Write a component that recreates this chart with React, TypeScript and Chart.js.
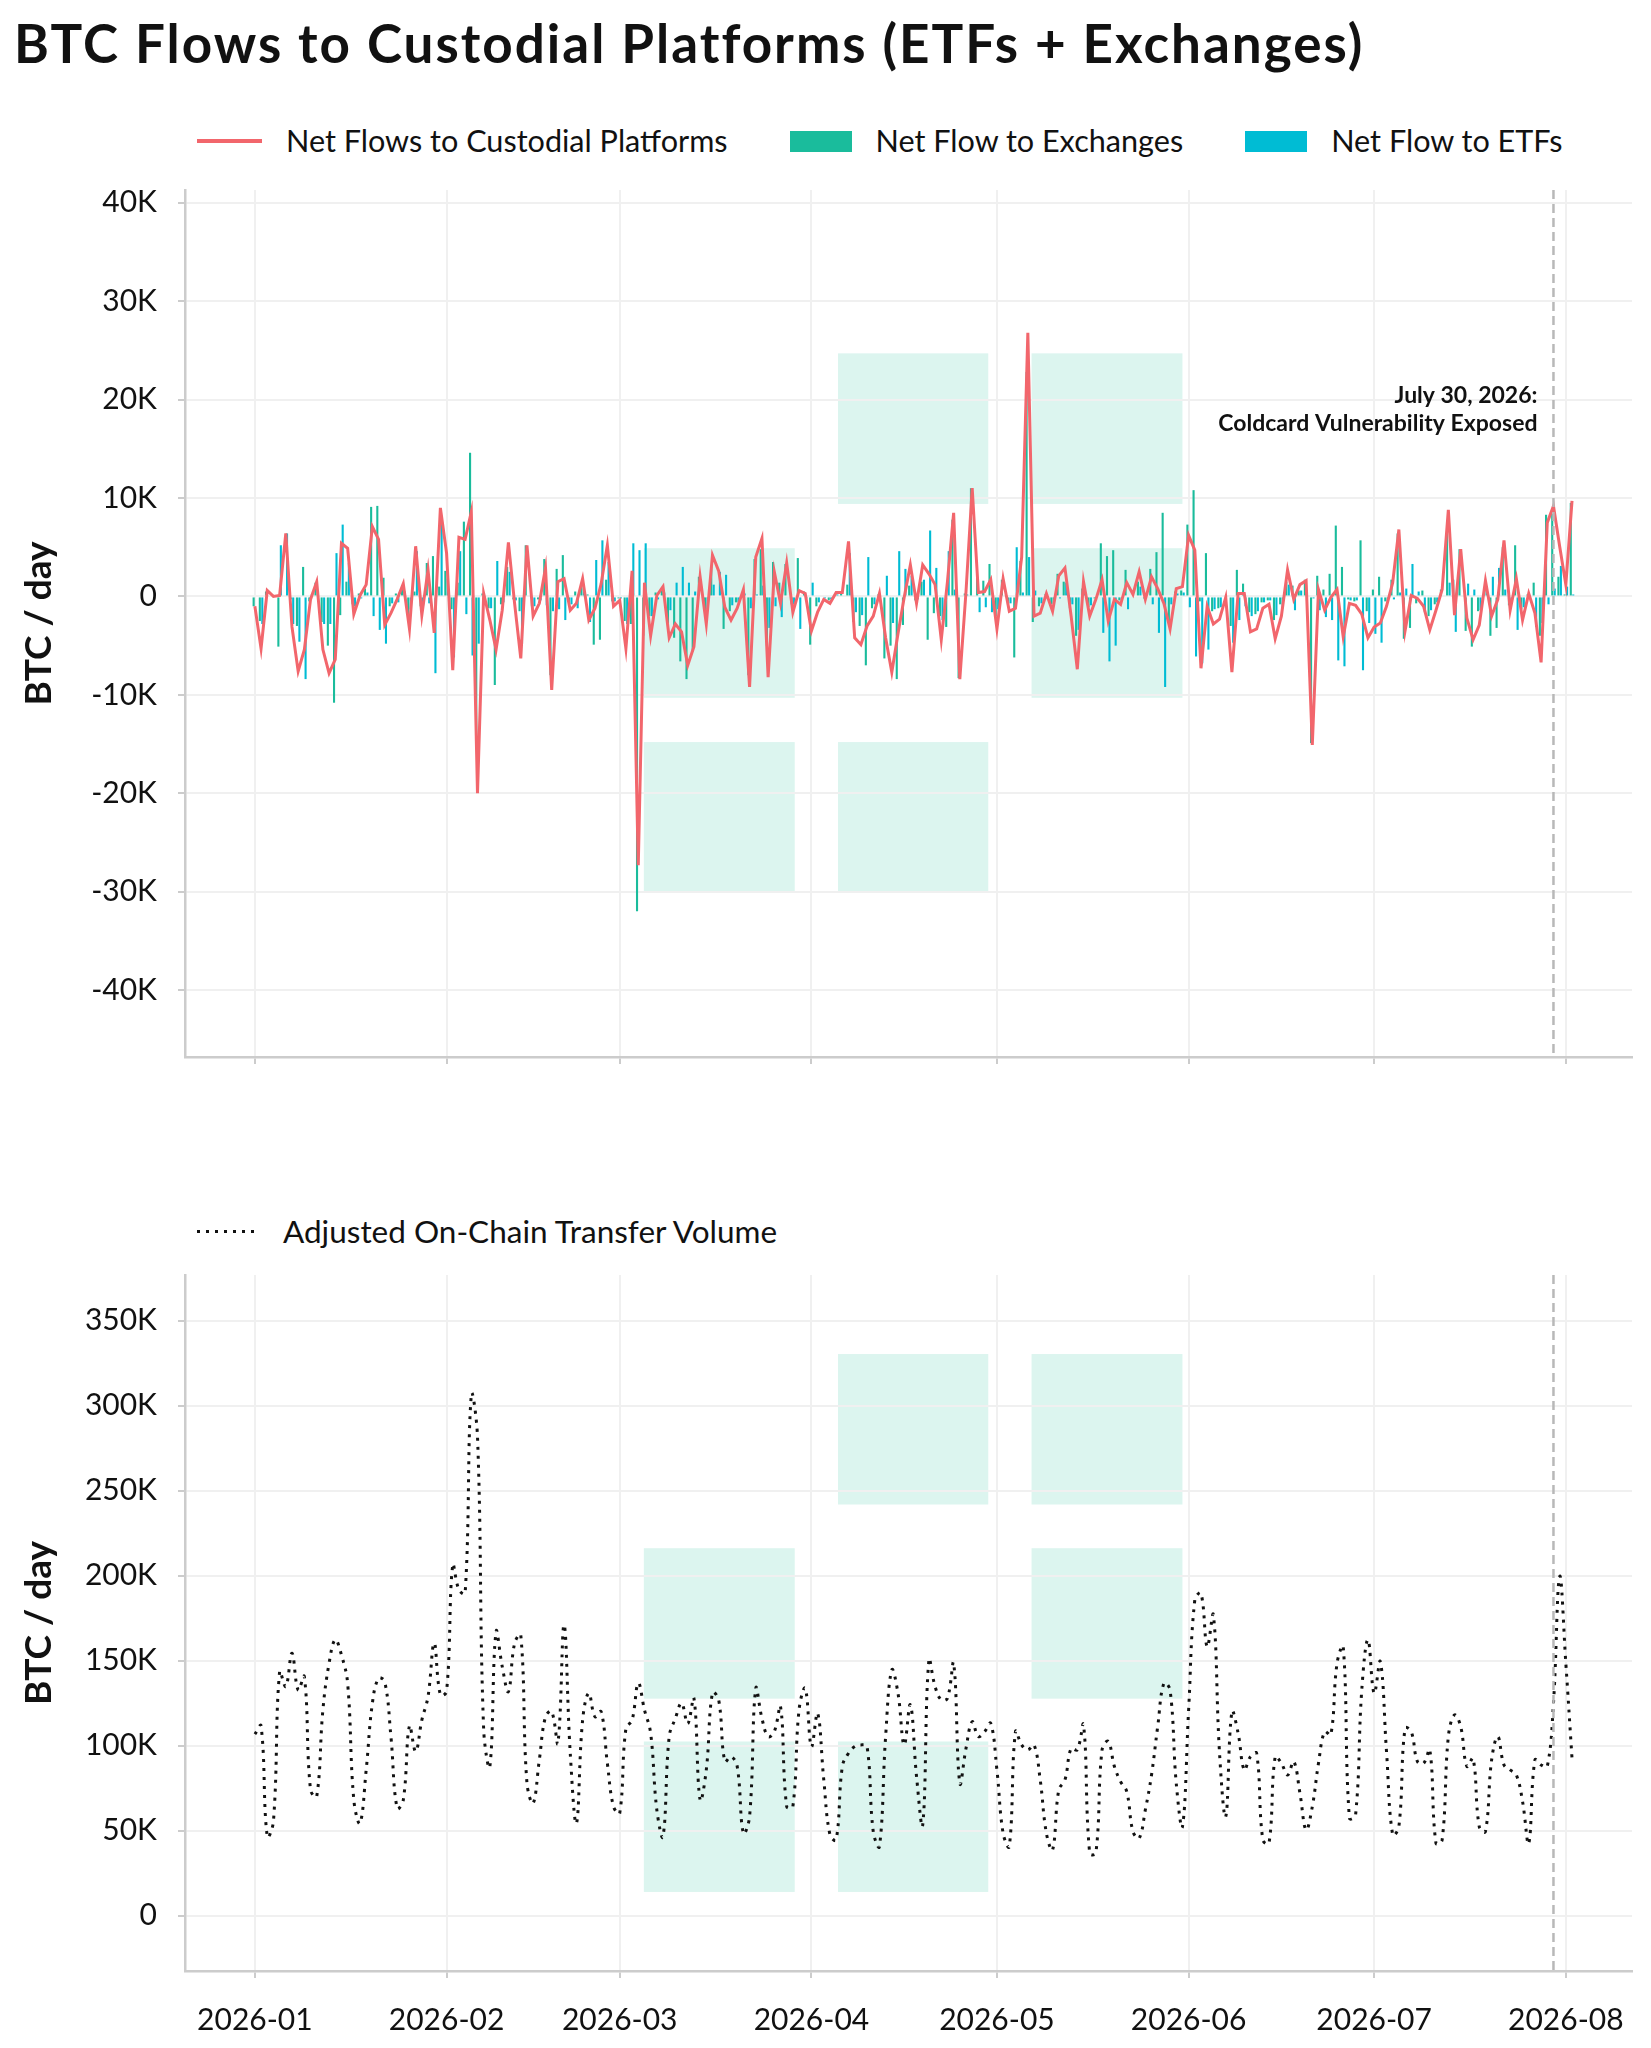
import { useRef, useEffect } from "react";
import Chart from "chart.js/auto";

const FONT = "Lato, 'Noto Sans', sans-serif";
Chart.defaults.font.family = FONT;

const TITLE = "BTC Flows to Custodial Platforms (ETFs + Exchanges)";

// day 0 = 2026-01-01, one value per day up to 2026-08-02
const netFlowsK = [
  -1.0, -5.3, 0.6, 0.0, 0.1, 6.4, -3.1, -7.6, -5.4, -0.3,
  1.5, -5.4, -7.8, -6.4, 5.4, 4.9, -1.8, 0.1, 1.2, 7.1,
  5.8, -2.9, -1.7, -0.3, 1.3, -3.3, 5.1, -1.9, 2.7, -3.7,
  9.0, 4.4, -7.5, 6.0, 5.8, 8.6, -20.0, 0.3, -2.4, -5.4,
  -1.4, 5.5, -0.7, -6.3, 5.2, -2.0, -0.7, 2.9, -9.5, 1.5,
  1.8, -1.4, -0.7, 1.8, -2.4, -1.2, 1.3, 5.2, -1.0, -0.4,
  -5.3, 2.6, -27.3, 1.4, -4.0, 0.1, 1.0, -4.2, -2.8, -3.6,
  -7.0, -5.1, 2.0, -2.8, 4.2, 2.6, -1.1, -2.4, -1.2, 0.7,
  -9.2, 4.0, 5.9, -8.2, 2.5, -0.7, 3.4, -1.6, 0.6, 0.3,
  -3.5, -1.6, -0.3, -0.7, 0.4, 0.4, 5.6, -4.2, -4.9, -3.0,
  -2.0, 0.3, -4.2, -7.7, -3.8, -0.1, 3.2, -0.7, 3.2, 2.3,
  1.2, -4.4, 1.5, 8.5, -8.4, 0.5, 11.0, 0.4, 0.5, 1.7,
  -3.3, 1.8, -1.5, -1.2, 4.0, 26.8, -2.0, -1.7, 0.3, -1.5,
  2.1, 2.9, -2.0, -7.4, 1.5, -2.0, -0.3, 1.7, -2.5, -0.3,
  -0.8, 1.4, 0.2, 2.5, -0.3, 2.0, 0.8, -0.7, -3.3, 0.8,
  1.0, 6.2, 4.7, -7.3, -1.0, -2.8, -2.3, -0.1, -7.7, 0.3,
  0.3, -3.6, -3.3, -1.2, -0.8, -4.3, -2.0, 2.7, -0.3, 1.2,
  1.6, -15.1, 0.7, -1.4, -0.1, 0.7, -4.1, -0.7, -0.9, -1.8,
  -4.2, -3.1, -2.7, -1.0, 1.4, 6.8, -3.5, 0.1, -0.2, -1.0,
  -3.4, -1.4, 0.7, 8.8, -1.9, 4.8, -2.2, -4.4, -2.9, 1.6,
  -2.0, -0.3, 5.7, -1.4, 1.8, -2.4, 0.3, -1.7, -6.7, 7.5,
  9.2, 5.1, 1.2, 9.7,
];

const exchangeFlowsK = [
  -1.0, -2.5, 0.5, 0.0, -5.1, 0.0, -0.3, -3.0, 3.0, -0.5,
  1.4, -2.6, -5.0, -10.8, -1.9, 1.5, -0.8, 0.3, 0.8, 9.1,
  9.2, 1.9, -1.0, 0.3, 0.8, -2.0, 0.5, -1.0, 3.4, 4.1,
  1.0, 2.6, -1.3, 1.4, 7.6, 14.6, -15.2, 0.3, -1.2, -9.0,
  -0.8, 3.0, -0.3, -1.5, 5.2, -1.0, -0.3, 3.8, -8.0, 2.8,
  4.2, -0.6, 0.5, 1.0, 0.2, -4.9, -4.4, 1.7, -0.5, -0.2,
  -2.5, -2.8, -32.0, -4.0, -2.0, 0.4, 0.6, -2.8, -4.2, -6.6,
  -8.4, -5.6, 2.0, -1.5, 3.0, 0.1, -3.3, -1.5, -0.6, 0.4,
  -8.0, 3.8, 4.8, -5.0, 3.5, 1.4, 3.3, -0.8, 3.9, 0.5,
  -4.9, -1.0, -0.1, -0.4, 0.2, 0.3, 1.2, -2.6, -3.0, -7.0,
  -1.2, 0.2, -6.3, -5.0, -8.4, -2.9, 1.1, -0.4, 1.5, -4.4,
  -1.7, -2.0, -3.1, 7.8, -8.3, 0.3, 11.0, 2.0, 1.6, 3.3,
  -2.0, 1.7, -0.8, -6.2, 3.6, 22.8, -2.6, -1.0, 0.2, -0.8,
  2.3, 1.5, -1.2, -4.0, 0.8, -1.1, -0.2, 5.4, 4.1, 4.7,
  -0.4, 2.7, 0.1, 1.5, -0.2, 2.8, 4.5, 8.5, -2.5, 0.5,
  0.6, 7.3, 10.8, -0.5, 4.4, -1.5, -1.2, -0.1, -3.0, 2.7,
  1.3, -1.6, -1.8, -0.6, -0.4, -2.4, -0.8, 1.5, 1.1, 0.6,
  1.7, -14.9, 2.1, 0.7, 2.3, 7.2, 3.0, -0.3, -0.5, 5.7,
  -1.5, 0.7, 2.0, -0.5, 1.7, 6.4, -4.3, -3.2, -0.7, 0.6,
  -2.0, -0.8, 0.7, 7.4, 1.7, 4.8, -3.5, -5.1, -1.5, 0.9,
  -4.0, -3.2, 5.0, -0.9, 5.2, -1.3, 0.2, 1.4, -4.0, 8.3,
  8.4, 2.0, 0.2, 9.5,
];

const etfFlowsK = [
  0.0, -2.8, 0.1, 0.0, 5.2, 6.4, -2.8, -4.6, -8.4, 0.2,
  0.1, -2.8, -2.8, 4.4, 7.3, 3.4, -1.0, -0.2, 0.4, -2.0,
  -3.4, -4.8, -0.7, -0.6, 0.5, -1.3, 4.6, -0.9, -0.7, -7.8,
  8.0, 1.8, -6.2, 4.6, -1.8, -6.0, -4.8, 0.0, -1.2, 3.6,
  -0.6, 2.5, -0.4, -4.8, 0.0, -1.0, -0.4, -0.9, -1.5, -1.3,
  -2.4, -0.8, -1.2, 0.8, -2.6, 3.7, 5.7, 3.5, -0.5, -0.2,
  -2.8, 5.4, 4.7, 5.4, -2.0, -0.3, 0.4, -1.4, 1.4, 3.0,
  1.4, 0.5, 0.0, -1.3, 1.2, 2.5, 2.2, -0.9, -0.6, 0.3,
  -1.2, 0.2, 1.1, -3.2, -1.0, -2.1, 0.1, -0.8, -3.3, -0.2,
  1.4, -0.6, -0.2, -0.3, 0.2, 0.1, 4.4, -1.6, -1.9, 4.0,
  -0.8, 0.1, 2.1, -2.7, 4.6, 2.8, 2.1, -0.3, 1.7, 6.7,
  2.9, -2.4, 4.6, 0.7, -0.1, 0.2, 0.0, -1.6, -1.1, -1.6,
  -1.3, 0.1, -0.7, 5.0, 0.4, 4.0, 0.6, -0.7, 0.1, -0.7,
  -0.2, 1.4, -0.8, -3.4, 0.7, -0.9, -0.1, -3.7, -6.6, -5.0,
  -0.4, -1.3, 0.1, 1.0, -0.1, -0.8, -3.7, -9.2, -0.8, 0.3,
  0.4, -1.1, -6.1, -6.8, -5.4, -1.3, -1.1, 0.0, -4.7, -2.4,
  -1.0, -2.0, -1.5, -0.6, -0.4, -1.9, -1.2, 1.2, -1.4, 0.6,
  -0.1, -0.2, -1.4, -2.1, -2.4, -6.5, -7.1, -0.4, -0.4, -7.5,
  -2.7, -3.8, -4.7, -0.5, -0.3, 0.4, 0.8, 3.3, 0.5, -1.6,
  -1.4, -0.6, 0.0, 1.4, -3.6, 0.0, 1.3, 0.7, -1.4, 0.7,
  2.0, 2.9, 0.7, -0.5, -3.4, -1.1, 0.1, -3.1, -2.7, -0.8,
  0.8, 3.1, 1.0, 0.2,
];

const transferVolumeK = [
  106.7, 111.6, 46.5, 55.3, 143.5, 134.7, 154.3, 132.7, 140.6, 73.9,
  70.0, 121.0, 148.4, 162.2, 153.3, 136.7, 68.0, 54.3, 85.7, 124.9,
  139.6, 137.6, 105.3, 63.1, 68.0, 111.6, 96.5, 115.0, 128.8, 160.2,
  129.8, 131.8, 206.3, 191.6, 189.6, 306.3, 281.8, 109.2, 87.7, 167.0,
  146.5, 131.8, 160.2, 165.1, 77.8, 66.1, 91.6, 117.0, 120.0, 101.4,
  171.0, 95.5, 54.3, 115.0, 130.8, 117.0, 120.0, 89.6, 64.1, 60.2,
  110.0, 115.0, 136.7, 121.0, 107.3, 62.2, 46.5, 105.3, 116.0, 124.9,
  113.0, 127.8, 68.0, 85.7, 131.2, 126.9, 90.6, 93.5, 87.7, 48.4,
  58.2, 133.7, 116.0, 105.3, 108.2, 123.0, 64.1, 64.1, 121.0, 133.7,
  99.4, 119.0, 79.8, 47.5, 44.5, 87.7, 95.5, 99.4, 100.4, 99.4,
  49.4, 40.6, 105.3, 144.5, 130.8, 100.4, 124.0, 81.8, 53.3, 150.4,
  134.7, 126.9, 127.8, 148.4, 77.8, 98.4, 114.0, 105.3, 108.2, 113.1,
  85.7, 48.4, 40.6, 108.2, 100.4, 97.5, 100.4, 79.8, 48.4, 38.6,
  73.9, 79.8, 98.4, 97.5, 112.2, 36.7, 36.7, 97.5, 102.4, 87.7,
  78.8, 72.9, 49.4, 45.5, 62.2, 82.7, 111.2, 136.7, 132.7, 77.8,
  52.3, 121.0, 185.7, 189.6, 158.2, 176.9, 95.5, 58.2, 120.0, 107.3,
  85.7, 93.5, 95.5, 44.5, 42.5, 93.5, 89.6, 82.7, 90.6, 72.0,
  50.4, 64.1, 89.6, 108.2, 106.3, 148.4, 158.2, 57.3, 59.2, 132.7,
  162.2, 130.8, 149.4, 96.5, 47.5, 52.3, 110.2, 108.2, 90.6, 89.6,
  97.5, 42.5, 44.5, 105.3, 118.0, 111.2, 87.7, 92.5, 52.3, 49.4,
  91.6, 105.3, 88.6, 85.7, 82.7, 67.1, 42.5, 91.6, 88.6, 87.7,
  124.9, 199.4, 148.4, 92.5,
];

const monthTicks = [0, 31, 59, 90, 120, 151, 181, 212];
const monthLabels = ["2026-01", "2026-02", "2026-03", "2026-04", "2026-05", "2026-06", "2026-07", "2026-08"];
const flowTicksK = [-40, -30, -20, -10, 0, 10, 20, 30, 40];
const volumeTicksK = [0, 50, 100, 150, 200, 250, 300, 350];

const eventDay = 210;
const eventText = ["July 30, 2026:", "Coldcard Vulnerability Exposed"];

// watermark blocks: [column, row]
const logoColumns = [[62.9, 87.3], [94.3, 118.6], [125.6, 150.0]];
const flowLogoRows = [[9.4, 24.7], [-10.3, 4.9], [-30.0, -14.8]];
const volumeLogoRows = [[241.8, 330.3], [127.6, 216.1], [13.9, 102.4]];
const logoCells = [[0, 1], [0, 2], [1, 0], [1, 2], [2, 0], [2, 1]];

const RED = "#f2666c";
const GREEN = "#1abc9c";
const CYAN = "#00bcd4";
const LOGO = "#dcf5ef";
const GRID = "#f0f0f0";
const AXIS = "#cccccc";
const INK = "#111111";

const toPoints = (arr) => arr.map((v, i) => ({ x: i, y: v }));
const kLabel = (v) => (v === 0 ? "0" : `${v}K`);

const overlay = (rows, withText) => ({
  id: "overlay",
  beforeDraw(chart) {
    const { ctx, scales } = chart;
    const { x, y } = scales;
    ctx.save();
    ctx.fillStyle = LOGO;
    logoCells.forEach(([c, r]) => {
      const x0 = x.getPixelForValue(logoColumns[c][0]);
      const x1 = x.getPixelForValue(logoColumns[c][1]);
      const y0 = y.getPixelForValue(rows[r][1]);
      const y1 = y.getPixelForValue(rows[r][0]);
      ctx.fillRect(x0, y0, x1 - x0, y1 - y0);
    });
    ctx.restore();
  },
  afterDatasetsDraw(chart) {
    const { ctx, chartArea, scales } = chart;
    const px = scales.x.getPixelForValue(eventDay);
    ctx.save();
    ctx.strokeStyle = "#b8b8b8";
    ctx.lineWidth = 2.5;
    ctx.setLineDash([9, 5]);
    ctx.beginPath();
    ctx.moveTo(px, chartArea.top);
    ctx.lineTo(px, chartArea.bottom);
    ctx.stroke();
    if (withText) {
      ctx.fillStyle = INK;
      ctx.font = `bold 23px ${FONT}`;
      ctx.textAlign = "right";
      ctx.textBaseline = "alphabetic";
      const y0 = scales.y.getPixelForValue(19.7);
      eventText.forEach((t, i) => ctx.fillText(t, px - 16, y0 + i * 28));
    }
    ctx.restore();
  },
});

const xScale = (showLabels, height) => ({
  type: "linear",
  min: -11.3,
  max: 222.7,
  offset: false,
  afterBuildTicks: (s) => {
    s.ticks = monthTicks.map((v) => ({ value: v }));
  },
  afterFit: (s) => {
    s.height = height;
    s.paddingLeft = 0;
    s.paddingRight = 0;
  },
  grid: { offset: false, color: GRID, lineWidth: 2, tickLength: 7, tickColor: AXIS, tickWidth: 2 },
  border: { color: AXIS, width: 2.5 },
  ticks: {
    autoSkip: false,
    maxRotation: 0,
    padding: 24,
    color: INK,
    font: { size: 30 },
    callback: (v, i) => (showLabels ? monthLabels[i] : ""),
  },
});

const yScale = (min, max, ticks) => ({
  min,
  max,
  afterBuildTicks: (s) => {
    s.ticks = ticks.map((v) => ({ value: v }));
  },
  afterFit: (s) => {
    s.width = 185;
    s.paddingTop = 0;
    s.paddingBottom = 0;
  },
  grid: { color: GRID, lineWidth: 2, tickLength: 7, tickColor: AXIS, tickWidth: 2 },
  border: { color: AXIS, width: 2.5 },
  ticks: { padding: 21, color: INK, font: { size: 30 }, callback: (v) => kLabel(v) },
  title: {
    display: true,
    text: "BTC / day",
    color: INK,
    font: { size: 37, weight: "bold" },
    padding: { top: 17, bottom: 0 },
  },
});

const FlowChart = () => {
  const canvasRef = useRef(null);
  const chartRef = useRef(null);

  useEffect(() => {
    if (chartRef.current) chartRef.current.destroy();
    chartRef.current = new Chart(canvasRef.current.getContext("2d"), {
      type: "bar",
      data: {
        datasets: [
          {
            type: "line",
            label: "Net Flows to Custodial Platforms",
            data: toPoints(netFlowsK),
            borderColor: RED,
            borderWidth: 3,
            pointRadius: 0,
            tension: 0,
          },
          {
            label: "Net Flow to Exchanges",
            data: toPoints(exchangeFlowsK),
            backgroundColor: GREEN,
            borderWidth: 0,
            categoryPercentage: 0.8,
            barPercentage: 0.85,
          },
          {
            label: "Net Flow to ETFs",
            data: toPoints(etfFlowsK),
            backgroundColor: CYAN,
            borderWidth: 0,
            categoryPercentage: 0.8,
            barPercentage: 0.85,
          },
        ],
      },
      options: {
        responsive: false,
        animation: false,
        layout: { padding: { top: 10, right: 19, left: 0, bottom: 0 } },
        plugins: { legend: { display: false }, tooltip: { enabled: false } },
        scales: {
          x: xScale(false, 53),
          y: yScale(-46.8, 41.3, flowTicksK),
        },
      },
      plugins: [overlay(flowLogoRows, true)],
    });
    return () => {
      if (chartRef.current) chartRef.current.destroy();
      chartRef.current = null;
    };
  }, []);

  return <canvas ref={canvasRef} width={1651} height={930} style={{ display: "block" }} />;
};

const VolumeChart = () => {
  const canvasRef = useRef(null);
  const chartRef = useRef(null);

  useEffect(() => {
    if (chartRef.current) chartRef.current.destroy();
    chartRef.current = new Chart(canvasRef.current.getContext("2d"), {
      type: "line",
      data: {
        datasets: [
          {
            label: "Adjusted On-Chain Transfer Volume",
            data: toPoints(transferVolumeK),
            borderColor: INK,
            borderWidth: 3,
            borderDash: [3, 6],
            borderCapStyle: "butt",
            pointRadius: 0,
            tension: 0.4,
          },
        ],
      },
      options: {
        responsive: false,
        animation: false,
        layout: { padding: { top: 10, right: 19, left: 0, bottom: 0 } },
        plugins: { legend: { display: false }, tooltip: { enabled: false } },
        scales: {
          x: xScale(true, 77),
          y: yScale(-32.6, 376.8, volumeTicksK),
        },
      },
      plugins: [overlay(volumeLogoRows, false)],
    });
    return () => {
      if (chartRef.current) chartRef.current.destroy();
      chartRef.current = null;
    };
  }, []);

  return <canvas ref={canvasRef} width={1651} height={783} style={{ display: "block" }} />;
};

const flowLegend = [
  { label: "Net Flows to Custodial Platforms", color: RED, kind: "line" },
  { label: "Net Flow to Exchanges", color: GREEN, kind: "box" },
  { label: "Net Flow to ETFs", color: CYAN, kind: "box" },
];
const volumeLegend = [{ label: "Adjusted On-Chain Transfer Volume", color: INK, kind: "dots" }];

const Swatch = ({ kind, color }) => {
  if (kind === "line") return <div style={{ width: 65, height: 4, background: color }} />;
  if (kind === "box") return <div style={{ width: 62, height: 21, background: color }} />;
  return (
    <div
      style={{
        width: 62,
        height: 3,
        background: `repeating-linear-gradient(to right, ${color} 0 3px, transparent 3px 9px)`,
      }}
    />
  );
};

const Legend = ({ top, items, size }) => (
  <div
    style={{
      position: "absolute",
      left: 197,
      top,
      height: 30,
      display: "flex",
      alignItems: "center",
      fontSize: size,
      lineHeight: "30px",
      whiteSpace: "nowrap",
      color: INK,
    }}
  >
    {items.map((it, i) => (
      <div key={i} style={{ display: "flex", alignItems: "center", marginRight: 62 }}>
        <Swatch kind={it.kind} color={it.color} />
        <span style={{ marginLeft: 24 }}>{it.label}</span>
      </div>
    ))}
  </div>
);

export default function App() {
  return (
    <div
      style={{
        position: "absolute",
        left: 0,
        top: 0,
        width: 1651,
        height: 2048,
        background: "#fff",
        fontFamily: FONT,
        color: INK,
        overflow: "hidden",
      }}
    >
      <div
        style={{
          position: "absolute",
          left: 14,
          top: 16,
          fontSize: 53,
          lineHeight: "53px",
          fontWeight: 700,
          letterSpacing: 2,
          whiteSpace: "nowrap",
        }}
      >
        {TITLE}
      </div>
      <Legend top={126} items={flowLegend} size={30.6} />
      <div style={{ position: "absolute", left: 0, top: 180 }}>
        <FlowChart />
      </div>
      <Legend top={1216} items={volumeLegend} size={31.5} />
      <div style={{ position: "absolute", left: 0, top: 1265 }}>
        <VolumeChart />
      </div>
    </div>
  );
}
